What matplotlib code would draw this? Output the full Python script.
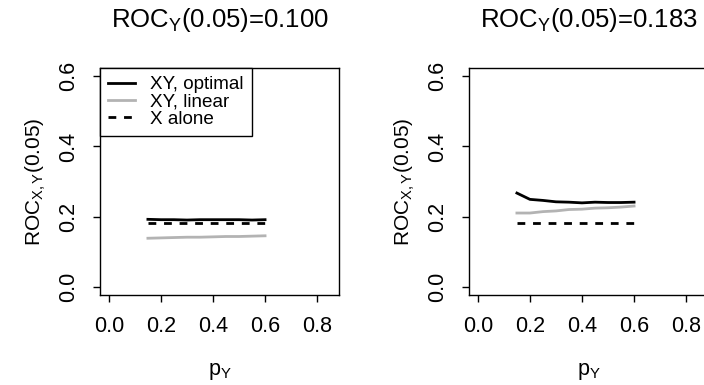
import numpy as np
import matplotlib.pyplot as plt

plt.rcParams['font.family'] = ['Liberation Sans', 'DejaVu Sans']
plt.rcParams['mathtext.fontset'] = 'custom'
plt.rcParams['mathtext.rm'] = 'Liberation Sans'
plt.rcParams['mathtext.it'] = 'Liberation Sans'

# prevalence of Y
p_y = [0.15, 0.2, 0.25, 0.3, 0.35, 0.4, 0.45, 0.5, 0.55, 0.6]

# left panel: ROC_Y(0.05)=0.100
opt_a = [0.192, 0.191, 0.191, 0.190, 0.191, 0.191, 0.191, 0.191, 0.190, 0.191]
lin_a = [0.138, 0.139, 0.140, 0.141, 0.141, 0.142, 0.143, 0.143, 0.144, 0.145]
xonly_a = 0.181

# right panel: ROC_Y(0.05)=0.183
opt_b = [0.267, 0.249, 0.246, 0.242, 0.241, 0.239, 0.241, 0.240, 0.240, 0.241]
lin_b = [0.210, 0.210, 0.214, 0.216, 0.220, 0.221, 0.224, 0.225, 0.227, 0.230]
xonly_b = 0.181

titles = ['ROC$_{\\mathrm{Y}}$(0.05)=0.100', 'ROC$_{\\mathrm{Y}}$(0.05)=0.183']
gray = '#b3b3b3'

W, H = 704, 385
fig = plt.figure(figsize=(W / 100, H / 100), dpi=100)
ax1 = fig.add_axes([100/W, 90/H, 239/W, 227/H])
ax2 = fig.add_axes([469/W, 90/H, 239/W, 227/H])

panels = [(ax1, opt_a, lin_a, xonly_a), (ax2, opt_b, lin_b, xonly_b)]
for i, (ax, opt, lin, xonly) in enumerate(panels):
    ax.plot(p_y, opt, color='black', lw=2, label='XY, optimal')
    ax.plot(p_y, lin, color=gray, lw=2, label='XY, linear')
    ax.plot(p_y, [xonly] * len(p_y), color='black', lw=2,
            linestyle=(0, (2.8, 2.8)), label='X alone')
    ax.set_xlim(-0.034, 0.884)
    ax.set_ylim(-0.024, 0.624)
    ax.set_xticks([0.0, 0.2, 0.4, 0.6, 0.8])
    ax.set_yticks([0.0, 0.2, 0.4, 0.6])
    ax.set_xticklabels(['0.0', '0.2', '0.4', '0.6', '0.8'])
    ax.set_yticklabels(['0.0', '0.2', '0.4', '0.6'], rotation=90, va='center')
    ax.tick_params(direction='out', length=5, width=1, labelsize=15.5, pad=10)
    for s in ax.spines.values():
        s.set_linewidth(1)
    # title centred over the plot box, about 20 px from the top
    fig.text((ax.get_position().x0 + ax.get_position().x1) / 2, 1 - 20 / H,
             titles[i], fontsize=18.5, ha='center', va='center')
    ax.set_xlabel('p$_{\\mathrm{Y}}$', fontsize=15.5, va='center')
    ax.xaxis.set_label_coords(0.5, (295 - 372) / 227)
    ax.set_ylabel('ROC$_{\\mathrm{X,Y}}$(0.05)', fontsize=15, va='center')
    ax.yaxis.set_label_coords(-64 / 239, 0.5)

leg = ax1.legend(loc='upper left', borderaxespad=0, fancybox=False,
                 edgecolor='black', fontsize=13.6, handlelength=1.45,
                 labelspacing=0.0, borderpad=0.42, handletextpad=0.8)
leg.get_frame().set_linewidth(1)
leg.get_frame().set_alpha(1)

fig.savefig('out.png', dpi=100)
